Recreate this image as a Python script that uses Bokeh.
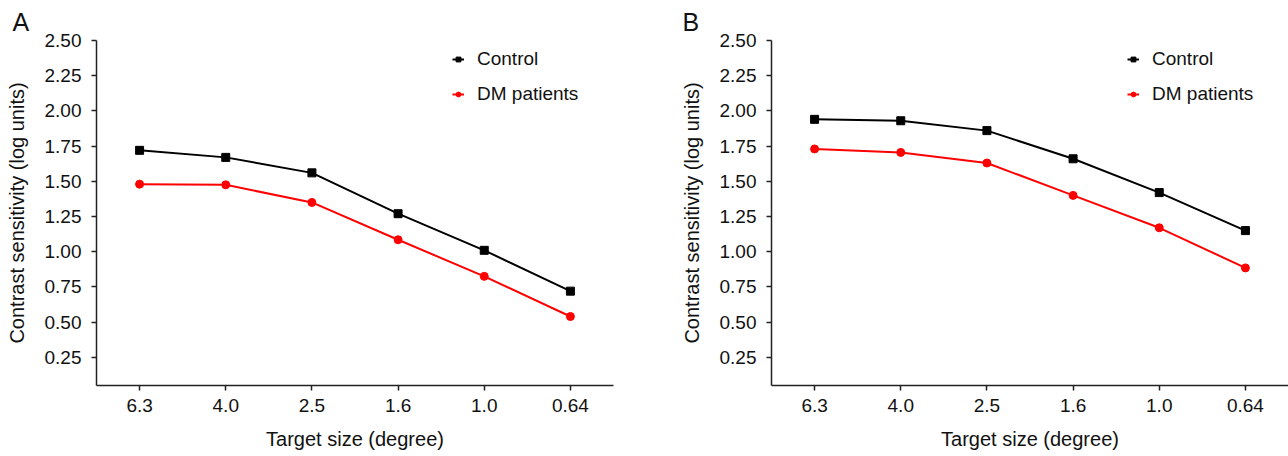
from bokeh.plotting import figure
from bokeh.layouts import row
from bokeh.models import Range1d, FactorRange, FixedTicker, PrintfTickFormatter
from bokeh.embed import file_html
from bokeh.resources import INLINE

# ---- data ----
target_sizes = ["6.3", "4.0", "2.5", "1.6", "1.0", "0.64"]
y_ticks = [0.25, 0.50, 0.75, 1.00, 1.25, 1.50, 1.75, 2.00, 2.25, 2.50]
control_A = [1.72, 1.67, 1.56, 1.27, 1.01, 0.72]
dm_A = [1.48, 1.475, 1.35, 1.085, 0.825, 0.54]
control_B = [1.94, 1.93, 1.86, 1.66, 1.42, 1.15]
dm_B = [1.73, 1.705, 1.63, 1.40, 1.17, 0.885]
series_names = ["Control", "DM patients"]
panel_letters = ["A", "B"]

FONT = "Liberation Sans"
TXT = "#111111"
RED = "#ff0000"


def make_panel(letter, control, dm, width, mbl, mbr, title_offset):
    p = figure(x_range=FactorRange(factors=target_sizes, range_padding=0),
               y_range=Range1d(0.05, 2.5),
               width=width, height=456, output_backend="svg", toolbar_location=None,
               min_border_left=mbl, min_border_right=mbr,
               min_border_top=40, min_border_bottom=71)
    p.outline_line_color = None
    p.grid.visible = False
    p.background_fill_color = "white"
    p.border_fill_color = "white"

    p.title.text = letter
    p.title.align = "left"
    p.title.offset = title_offset
    p.title.standoff = 10
    p.title.text_font = FONT
    p.title.text_font_size = "25px"
    p.title.text_font_style = "normal"
    p.title.text_color = TXT

    p.line(target_sizes, control, line_color="black", line_width=2, legend_label=series_names[0])
    p.scatter(target_sizes, control, marker="square", size=8, color="black", legend_label=series_names[0])
    p.line(target_sizes, dm, line_color=RED, line_width=2, legend_label=series_names[1])
    p.scatter(target_sizes, dm, marker="circle", size=8, color=RED, legend_label=series_names[1])

    for ax in (p.xaxis[0], p.yaxis[0]):
        ax.axis_line_color = "#222222"
        ax.axis_line_width = 1.5
        ax.major_tick_line_color = "#222222"
        ax.major_tick_line_width = 1.5
        ax.major_tick_out = 5
        ax.major_tick_in = 0
        ax.minor_tick_out = 0
        ax.minor_tick_in = 0
        ax.major_label_text_font = FONT
        ax.major_label_text_font_size = "19px"
        ax.major_label_text_color = TXT
        ax.axis_label_text_font = FONT
        ax.axis_label_text_font_size = "20px"
        ax.axis_label_text_font_style = "normal"
        ax.axis_label_text_color = TXT

    p.xaxis.axis_label = "Target size (degree)"
    p.xaxis.major_label_standoff = 8
    p.xaxis.axis_label_standoff = 13

    p.yaxis.axis_label = "Contrast sensitivity (log units)"
    p.yaxis.ticker = FixedTicker(ticks=y_ticks)
    p.yaxis.formatter = PrintfTickFormatter(format="%.2f")
    p.yaxis.major_label_standoff = 10
    p.yaxis.axis_label_standoff = 14

    lg = p.legend[0]
    lg.location = (356, 280)
    lg.padding = 0
    lg.margin = 0
    lg.border_line_color = None
    lg.background_fill_alpha = 0
    lg.label_text_font = FONT
    lg.label_text_font_size = "19px"
    lg.label_text_color = TXT
    lg.glyph_width = 12
    lg.glyph_height = 20
    lg.label_height = 20
    lg.label_standoff = 13
    lg.spacing = 13
    return p


pA = make_panel(panel_letters[0], control_A, dm_A, 676, 96, 63, -84)
pB = make_panel(panel_letters[1], control_B, dm_B, 612, 95, 0, -89)

layout = row(pA, pB)
open("out.html", "w").write(file_html(layout, INLINE))
